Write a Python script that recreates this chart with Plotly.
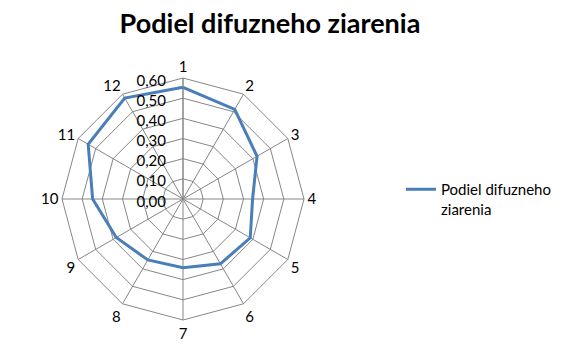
import plotly.graph_objects as go

categories = ["1", "2", "3", "4", "5", "6", "7", "8", "9", "10", "11", "12"]
values = [0.554, 0.513, 0.424, 0.345, 0.385, 0.371, 0.341, 0.349, 0.382, 0.448, 0.543, 0.578]
series_name = "Podiel difuzneho<br>ziarenia"
title_text = "Podiel difuzneho ziarenia"
radial_ticks = [0.0, 0.1, 0.2, 0.3, 0.4, 0.5, 0.6]

FONT = "Lato"
W, H = 563, 351
cx, cy, R = 183, 199, 121

fig = go.Figure()
fig.add_trace(go.Scatterpolar(
    r=values + values[:1],
    theta=categories + categories[:1],
    mode="lines",
    line=dict(color="#4A7EBB", width=3),
    name=series_name,
))

fig.update_layout(
    width=W, height=H,
    margin=dict(l=0, r=0, t=0, b=0),
    paper_bgcolor="white",
    plot_bgcolor="white",
    separators=", ",
    font=dict(family=FONT, size=15, color="black"),
    title=dict(text="<b>" + title_text + "</b>", x=270 / W, xanchor="center",
               y=1 - 24 / H, yanchor="middle", font=dict(family=FONT, size=27, color="black")),
    showlegend=True,
    legend=dict(x=401 / W, y=1 - 173 / H, xanchor="left", yanchor="top",
                valign="top",
                font=dict(family=FONT, size=15, color="black"),
                bgcolor="rgba(0,0,0,0)", itemwidth=30),
    polar=dict(
        domain=dict(x=[(cx - R) / W, (cx + R) / W], y=[(H - cy - R) / H, (H - cy + R) / H]),
        bgcolor="white",
        gridshape="linear",
        angularaxis=dict(
            type="category",
            categoryarray=categories,
            direction="clockwise",
            rotation=90,
            showline=True,
            linecolor="#868686",
            linewidth=1,
            gridcolor="#868686",
            gridwidth=1,
            ticks="",
            tickfont=dict(family=FONT, size=15, color="black"),
        ),
        radialaxis=dict(
            range=[0, 0.6],
            tickvals=radial_ticks,
            tickformat=".2f",
            angle=90,
            side="counterclockwise",
            showline=True,
            linecolor="#868686",
            gridcolor="#868686",
            gridwidth=1,
            ticks="outside",
            ticklen=3,
            tickcolor="rgba(0,0,0,0)",
            tickfont=dict(family=FONT, size=15, color="black"),
        ),
    ),
)

fig.write_html("out.html")
